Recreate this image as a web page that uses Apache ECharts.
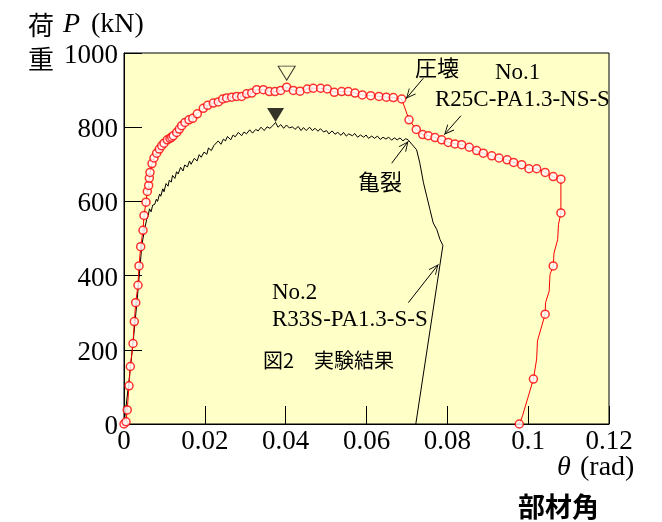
<!DOCTYPE html>
<html>
<head>
<meta charset="utf-8">
<script src="https://cdn.jsdelivr.net/npm/echarts@6/dist/echarts.min.js"></script>
<style>
html,body{margin:0;padding:0;background:#fff;}
#c{width:662px;height:522px;}
</style>
</head>
<body>
<div id="c"></div>
<script>
// Tick labels
var xTicks = [0, 0.02, 0.04, 0.06, 0.08, 0.1, 0.12];
var yTicks = [0, 200, 400, 600, 800, 1000];

// No.1 R25C-PA1.3-NS-S : marked points [theta(rad), P(kN)]
var no1Loading = [
  [0,0],[0.0005,6],[0.0008,38],[0.00124,103],[0.00156,155],[0.00223,217],[0.00255,276],
  [0.0029,327],[0.00346,374],[0.00371,426],[0.00413,478],[0.0047,522],[0.00495,562],
  [0.00544,598],[0.00577,627],[0.0061,643],[0.00627,663],[0.00643,678],[0.00693,702],
  [0.00742,717],[0.00808,730],[0.00874,741],[0.00932,750],[0.0099,757],[0.01072,766],
  [0.01138,770],[0.0118,773],[0.0122,777],[0.01303,786],[0.01369,795],[0.01427,804],
  [0.01509,813],[0.01608,820],[0.017,824],[0.01814,836],[0.01962,851],[0.0207,859],
  [0.0221,865],[0.02334,868],[0.02442,876],[0.0254,879],[0.02665,881],[0.02788,883],
  [0.02912,883],[0.03036,890],[0.0316,892],[0.03283,901],[0.03447,901],[0.03596,896],
  [0.03736,896],[0.03877,899],[0.04025,908],[0.04189,899],[0.04355,897],[0.04535,903],
  [0.04684,905],[0.04867,905],[0.0503,903],[0.05203,894],[0.05386,896],[0.0555,896],
  [0.05716,892],[0.05896,887],[0.06104,885],[0.06309,883],[0.0649,881],[0.06663,880],
  [0.06871,876],[0.07052,820],[0.07232,794],[0.0739,780],[0.07529,777],[0.07695,772],
  [0.0786,766],[0.08024,759],[0.0819,755],[0.08355,753],[0.08543,746],[0.08726,737],
  [0.0889,730],[0.091,723],[0.0928,717],[0.0948,712],[0.0964,705],[0.0984,699],
  [0.1002,688],[0.1021,688],[0.1042,678],[0.1062,667],[0.1081,660]
];
// No.1 unloading branch: [theta, P, marked(1) or not(0)]
var no1Unload = [
  [0.1081,569,1],[0.1075,538,0],[0.1073,497,0],[0.1064,461,0],[0.1062,426,1],
  [0.1054,403,0],[0.1052,358,0],[0.1043,327,0],[0.1042,296,1],[0.1023,224,0],
  [0.1021,175,0],[0.1013,121,1],[0.0986,22,0],[0.0978,0,1]
];

// No.2 R33S-PA1.3-S-S : [theta, P]
var no2Curve = [
  [0,0],[0.0011,103],[0.0022,215],[0.0033,340],[0.0044,480],[0.005,520],[0.0056,551],
  [0.006,562],[0.0063,580],[0.0067,572],[0.0071,590],[0.0076,592],[0.008,606],[0.0083,600],
  [0.0088,620],[0.0091,614],[0.0096,634],[0.0099,626],[0.0104,648],[0.0109,641],[0.0112,657],
  [0.0117,652],[0.012,670],[0.0126,662],[0.013,680],[0.0134,674],[0.014,692],[0.0146,682],
  [0.015,698],[0.0157,693],[0.0162,709],[0.0166,700],[0.0174,716],[0.0181,709],[0.0186,726],
  [0.0191,719],[0.0198,733],[0.0205,727],[0.0209,744],[0.0216,737],[0.0222,750],[0.0226,748],
  [0.0233,763],[0.024,754],[0.0246,768],[0.0251,763],[0.0256,775],[0.0264,766],[0.027,779],
  [0.0275,774],[0.0283,786],[0.0291,777],[0.0297,787],[0.0303,782],[0.0311,793],[0.0318,784],
  [0.0326,794],[0.0332,790],[0.0339,800],[0.0347,791],[0.0354,801],[0.0361,797],[0.0368,804],
  [0.0375,813],[0.0381,800],[0.0388,807],[0.0395,797],[0.0402,806],[0.0409,798],[0.0417,801],
  [0.0423,794],[0.0431,802],[0.0438,791],[0.0444,799],[0.0451,791],[0.0459,800],[0.0466,791],
  [0.0473,797],[0.048,789],[0.0486,796],[0.0494,787],[0.0501,791],[0.0507,782],[0.0515,790],
  [0.0522,781],[0.0529,786],[0.0537,778],[0.0543,786],[0.055,776],[0.0556,782],[0.0565,777],
  [0.0571,783],[0.0578,773],[0.0585,779],[0.0593,773],[0.0599,779],[0.0605,770],[0.0613,776],
  [0.062,770],[0.0627,776],[0.0634,767],[0.0641,773],[0.0648,768],[0.0655,773],[0.0662,765],
  [0.0669,771],[0.0676,766],[0.0683,771],[0.069,763],[0.0697,769],[0.0703,766],
  [0.0724,739],[0.0732,703],[0.0741,650],[0.0749,614],[0.0757,578],[0.0765,542],
  [0.0774,524],[0.0782,497],[0.0789,481],[0.0722,0]
];

// Peak markers
var peakNo1 = [0.04025, 908];
var peakNo2 = [0.0375, 806];

// Annotation arrows [from, to] in data coordinates
var arrowSegments = [
  [[0.07406,932],[0.0698,877]],
  [[0.08338,831],[0.07925,780]],
  [[0.06624,703],[0.07034,762]],
  [[0.07034,327],[0.07777,430]]
];

var no1LineData = no1Loading.concat(no1Unload.map(function(p){return [p[0],p[1]];}));
var no1MarkData = no1Loading.concat(no1Unload.filter(function(p){return p[2]===1;}).map(function(p){return [p[0],p[1]];}));

var chevron = 'path://M0,-10 L0.01,-10 L0,-9.99 Z M0,0 L4.6,10 L3.8,10.4 L0,2 L-3.8,10.4 L-4.6,10 Z';

var serif = 'Liberation Serif';
var sans = 'Noto Sans CJK JP';

function txt(x, y, s, font, extra) {
  var st = {text: s, x: 0, y: 0, font: font, fill: '#000', textAlign: 'left', textVerticalAlign: 'middle'};
  if (extra) for (var k in extra) st[k] = extra[k];
  return {type: 'text', x: x, y: y, z: 100, style: st, silent: true};
}

var chart = echarts.init(document.getElementById('c'), null, {renderer: 'canvas'});
var option = {
  animation: false,
  backgroundColor: '#ffffff',
  grid: {
    left: 124, right: 53, top: 53, bottom: 98,
    show: true, backgroundColor: '#ffffc8', borderColor: '#000', borderWidth: 1
  },
  xAxis: {
    type: 'value', min: 0, max: 0.12, interval: 0.02,
    axisLine: {show: true, onZero: false, lineStyle: {color: '#000', width: 1}},
    axisTick: {show: true, inside: true, length: 18, lineStyle: {color: '#000', width: 1}},
    axisLabel: {show: false},
    splitLine: {show: false}
  },
  yAxis: {
    type: 'value', min: 0, max: 1000, interval: 200,
    axisLine: {show: true, onZero: false, lineStyle: {color: '#000', width: 1}},
    axisTick: {show: true, inside: true, length: 18, lineStyle: {color: '#000', width: 1}},
    axisLabel: {show: false},
    splitLine: {show: false}
  },
  series: [
    {
      name: 'No.1 line', type: 'line', data: no1LineData, showSymbol: false, symbol: 'none',
      lineStyle: {color: '#ff0000', width: 1}, z: 3, silent: true
    },
    {
      name: 'No.1 marks', type: 'scatter', data: no1MarkData, symbol: 'circle', symbolSize: 8,
      itemStyle: {color: '#ffffff', borderColor: '#ff0000', borderWidth: 1.5}, z: 4, silent: true
    },
    {
      name: 'No.2', type: 'line', data: no2Curve, showSymbol: false, symbol: 'none',
      lineStyle: {color: '#000000', width: 1}, z: 2, silent: true,
      markLine: {
        silent: true, animation: false,
        symbol: ['none', chevron], symbolSize: [9, 20],
        lineStyle: {color: '#000', width: 1, type: 'solid'},
        label: {show: false},
        emphasis: {disabled: true},
        data: arrowSegments.map(function(s){ return [{coord: s[0]}, {coord: s[1]}]; })
      }
    },
    {
      name: 'peak1', type: 'scatter', data: [peakNo1], symbol: 'triangle', symbolRotate: 180,
      symbolSize: [17, 14], symbolOffset: [0, -14],
      itemStyle: {color: 'rgba(0,0,0,0)', borderColor: '#000', borderWidth: 1}, z: 5, silent: true
    },
    {
      name: 'peak2', type: 'scatter', data: [peakNo2], symbol: 'triangle', symbolRotate: 180,
      symbolSize: [17, 14], symbolOffset: [0, -10],
      itemStyle: {color: '#000'}, z: 5, silent: true
    }
  ],
  graphic: [
    txt(28, 25, '荷', '26px ' + sans),
    txt(28, 59, '重', '26px ' + sans),
    txt(63, 25, 'P', 'italic 28px ' + serif),
    txt(91, 25, '(kN)', '28px ' + serif),
    txt(557, 468, 'θ', 'italic 28px ' + serif),
    txt(580, 468, '(rad)', '28px ' + serif),
    txt(518, 507, '部材角', 'bold 27px ' + sans),
    txt(415, 68, '圧壊', '22px ' + sans),
    txt(495, 73, 'No.1', '23px ' + serif),
    txt(435, 100, 'R25C-PA1.3-NS-S', '23px ' + serif),
    txt(358, 182, '亀裂', '22px ' + sans),
    txt(272, 293, 'No.2', '23px ' + serif),
    txt(272, 320, 'R33S-PA1.3-S-S', '23px ' + serif),
    txt(263, 360, '図2　実験結果', '20px ' + sans)
  ]
};
chart.setOption(option);

// Tick labels placed through the library's own axis scales
var tickGraphics = [];
xTicks.forEach(function(v){
  var px = chart.convertToPixel({xAxisIndex: 0}, v);
  var py = chart.convertToPixel({yAxisIndex: 0}, 0);
  tickGraphics.push({type: 'text', x: px, y: py + 18, z: 100, silent: true,
    style: {text: String(v), font: '27px ' + serif, fill: '#000', textAlign: 'center', textVerticalAlign: 'middle'}});
});
yTicks.forEach(function(v){
  var px = chart.convertToPixel({xAxisIndex: 0}, 0);
  var py = chart.convertToPixel({yAxisIndex: 0}, v);
  tickGraphics.push({type: 'text', x: px - 6, y: py + 3, z: 100, silent: true,
    style: {text: String(v), font: '27px ' + serif, fill: '#000', textAlign: 'right', textVerticalAlign: 'middle'}});
});
chart.setOption({graphic: option.graphic.concat(tickGraphics)});
</script>
</body>
</html>
